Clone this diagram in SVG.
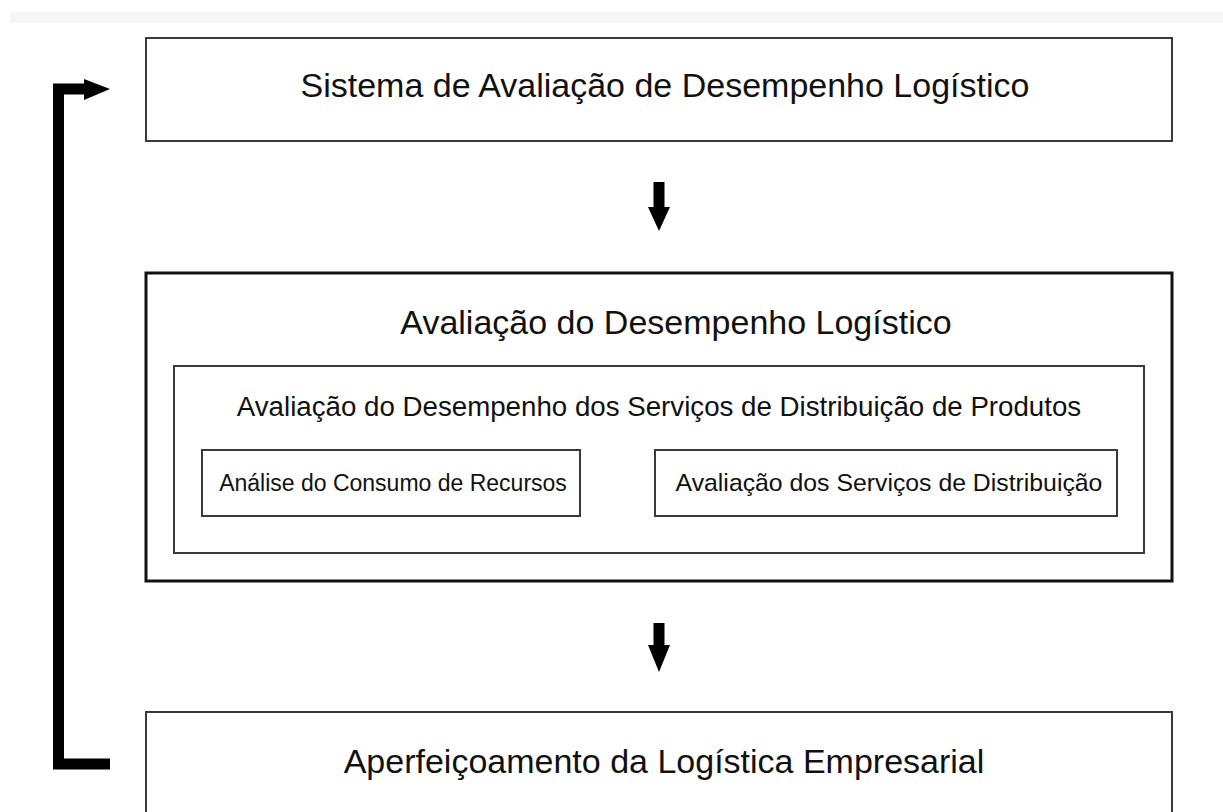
<svg xmlns="http://www.w3.org/2000/svg" width="1223" height="812" viewBox="0 0 1223 812">
<style>
text{font-family:"Liberation Sans",Arial,sans-serif;fill:#111;text-anchor:middle}
.box{fill:#fff;stroke:#3a3a3a;stroke-width:2}
.thick{fill:#fff;stroke:#111;stroke-width:3}
.arr{fill:#000}
</style>
<rect x="0" y="0" width="1223" height="812" fill="#fff"/>
<rect x="10" y="12" width="1213" height="11" fill="#f6f6f6"/>
<g id="node-sistema">
<rect class="box" x="146" y="38" width="1026" height="103"/>
<text x="665" y="97" font-size="34">Sistema de Avaliação de Desempenho Logístico</text>
</g>
<g id="node-avaliacao">
<rect class="thick" x="146" y="273" width="1026" height="308"/>
<text x="676" y="334" font-size="34">Avaliação do Desempenho Logístico</text>
</g>
<g id="node-servicos">
<rect class="box" x="174" y="366" width="970" height="187"/>
<text x="659" y="416" font-size="27.7">Avaliação do Desempenho dos Serviços de Distribuição de Produtos</text>
</g>
<g id="node-analise">
<rect class="box" x="202" y="450" width="378" height="66"/>
<text x="393" y="491" font-size="23">Análise do Consumo de Recursos</text>
</g>
<g id="node-distribuicao">
<rect class="box" x="655" y="450" width="462" height="66"/>
<text x="889" y="491" font-size="24.8">Avaliação dos Serviços de Distribuição</text>
</g>
<g id="node-aperfeicoamento">
<rect class="box" x="146" y="712" width="1026" height="130"/>
<text x="664" y="773" font-size="34">Aperfeiçoamento da Logística Empresarial</text>
</g>
<g id="connectors">
<polygon class="arr" points="653.5,182 664.5,182 664.5,207 670,207 659,231 648,207 653.5,207"/>
<polygon class="arr" points="653.5,623 664.5,623 664.5,645 670,645 659,672 648,645 653.5,645"/>
<polyline points="110,764 58.5,764 58.5,89 86,89" fill="none" stroke="#000" stroke-width="11"/>
<polygon class="arr" points="84,79 110,89 84,100"/>
</g>
</svg>
